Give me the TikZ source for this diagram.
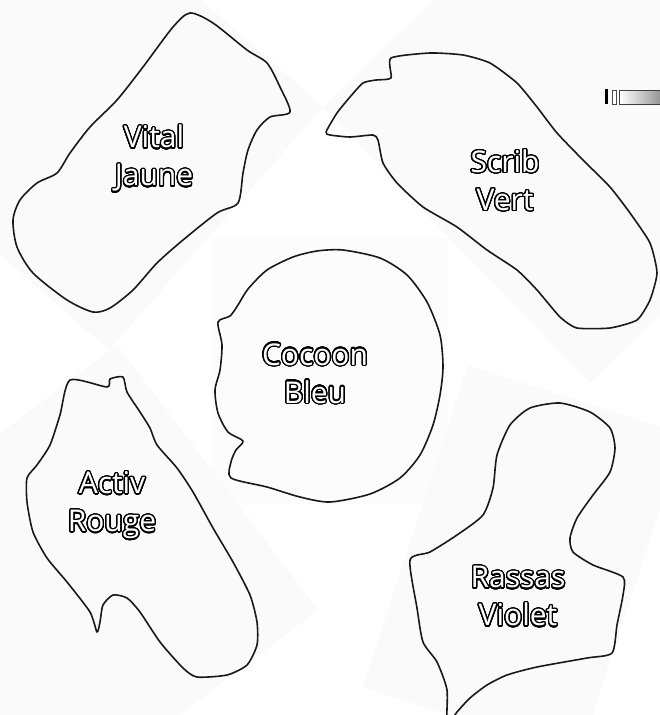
\documentclass[tikz,border=0pt]{standalone}
\usepackage{fontspec}
\setmainfont{Open Sans}
\usepackage{xcolor}
\usepackage{contour}
\contourlength{1.3pt}
\contournumber{32}
\newcommand*\hollow[1]{\contour{black}{\textcolor{white}{#1}}}

\begin{document}
\begin{tikzpicture}[x=1pt,y=-1pt]
% Define styles
\tikzstyle{sheet}=[fill=black!2]
\tikzstyle{blob}=[draw=black!90, line width=1.6pt, line join=round]
\tikzstyle{tag}=[align=center, inner sep=0pt, font=\fontsize{30}{38}\selectfont]

% Page
\fill[white] (0,0) rectangle (660,715);
\useasboundingbox (0,0) rectangle (660,715);

% Faint sheets behind the pieces
\fill[sheet] (323,107) -- (109,350) -- (-191,86) -- (23,-157) -- cycle;
\fill[sheet] (323,107) -- (590,383) -- (866,116) -- (599,-160) -- cycle;
\fill[black!1] (212,238) rectangle (447,505);
\fill[sheet] (117,345) -- (318,610) -- (0,851) -- (-201,586) -- cycle;
\fill[sheet] (468,365) -- (684,435) -- (579,757) -- (363,687) -- cycle;

% Vital / Jaune
\draw[blob] plot[smooth cycle, tension=0.45] coordinates {(190,13) (213,23) (247,50) (267,63) (280,87) (290,112) (270,117) (257,130) (248,150) (243,173) (238,203) (217,213) (183,240) (157,263) (133,290) (110,308) (93,312) (67,300) (33,273) (17,247) (13,220) (20,200) (37,183) (57,173) (70,153) (90,127) (117,100) (143,67) (173,27)};
\node[tag] (vital) at (154,159) {\hollow{Vital}\\\hollow{Jaune}};

% Scrib / Vert
\draw[blob] plot[smooth cycle, tension=0.35] coordinates {(326,132) (337,113) (350,97) (363,83) (376,80) (391,78) (391,58) (430,53) (463,55) (490,63) (517,83) (537,107) (557,133) (583,160) (610,187) (630,213) (650,243) (657,273) (650,300) (637,320) (610,328) (577,328) (560,317) (537,290) (517,270) (487,250) (457,227) (423,207) (397,183) (383,163) (378,140) (373,135) (350,137) (330,135)};
\node[tag] (scrib) at (505,181) {\hollow{Scrib}\\\hollow{Vert}};

% Cocoon / Bleu
\draw[blob] plot[smooth cycle, tension=0.45] coordinates {(343,250) (380,258) (407,275) (427,302) (440,335) (443,367) (440,395) (433,425) (420,455) (400,478) (370,494) (330,502) (300,497) (267,487) (231,478) (231,462) (236,450) (243,441) (228,432) (218,413) (215,390) (220,370) (222,345) (218,322) (230,316) (238,305) (248,289) (267,270) (293,257) (317,251)};
\node[tag] (cocoon) at (315,374) {\hollow{Cocoon}\\\hollow{Bleu}};

% Activ / Rouge
\draw[blob] plot[smooth cycle, tension=0.4] coordinates {(70,380) (107,387) (110,379) (123,377) (127,392) (140,412) (150,428) (157,445) (177,468) (193,492) (213,528) (233,562) (250,595) (257,622) (257,645) (247,665) (227,675) (197,677) (183,668) (160,642) (140,612) (127,598) (113,595) (103,605) (100,622) (97,632) (90,612) (67,582) (47,558) (33,532) (27,502) (27,478) (37,465) (50,445) (60,415)};
\node[tag] (activ) at (112,506) {\hollow{Activ}\\\hollow{Rouge}};

% Rassas / Violet
\draw[blob] plot[smooth cycle, tension=0.4] coordinates {(560,403) (590,412) (610,428) (615,448) (610,472) (593,495) (577,518) (570,538) (573,552) (593,565) (623,577) (623,595) (617,625) (612,653) (587,658) (537,667) (507,675) (487,685) (470,698) (457,712) (447,725) (447,690) (437,662) (423,642) (417,608) (410,560) (430,552) (457,535) (483,515) (493,488) (497,455) (510,425) (530,408)};
\node[tag] (rassas) at (518,597) {\hollow{Rassas}\\\hollow{Violet}};

% Slider in the corner
\fill[black] (605,89) rectangle (607.5,104);
\draw[black!70, line width=0.8pt, fill=white] (612,90) rectangle (616,104);
\shade[left color=white, right color=black!45, draw=black!75, line width=0.8pt] (619.5,90) rectangle (664,104);
\end{tikzpicture}
\end{document}
